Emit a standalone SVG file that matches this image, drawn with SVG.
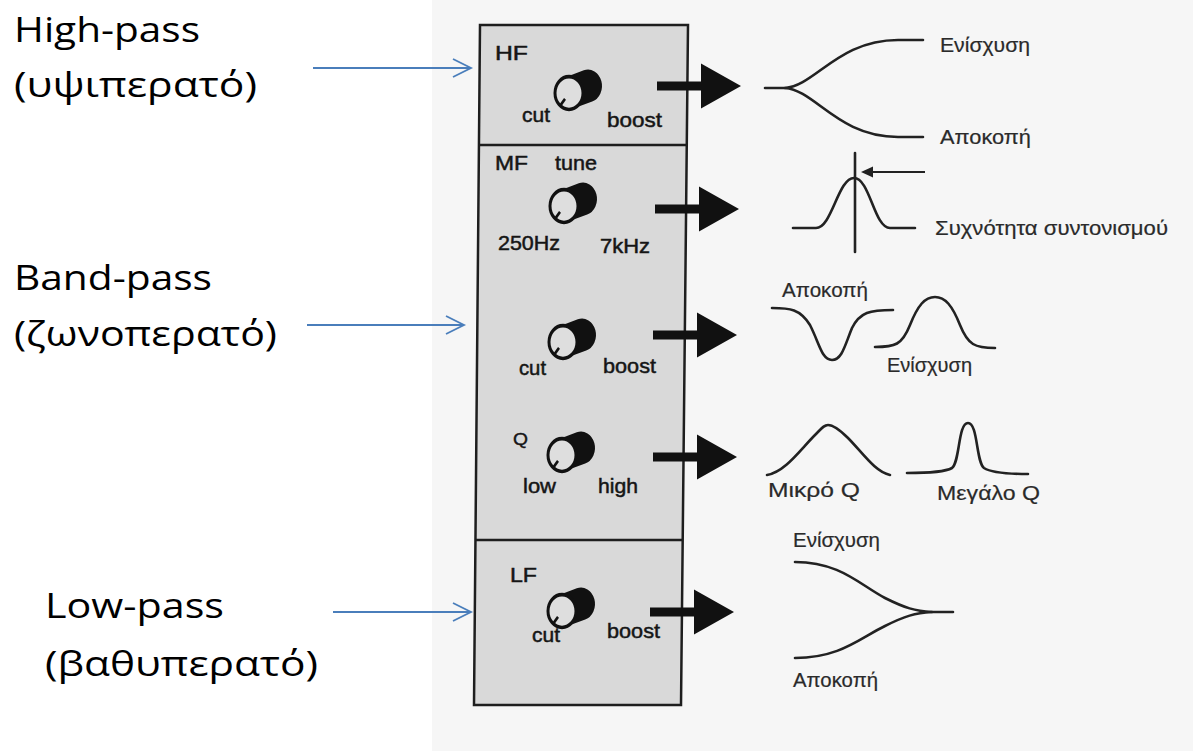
<svg xmlns="http://www.w3.org/2000/svg" xmlns:xlink="http://www.w3.org/1999/xlink" width="1193" height="751" viewBox="0 0 1193 751">
<style>
.pl{font-family:"Liberation Sans",Arial,sans-serif;font-size:21px;fill:#151515;stroke:#151515;stroke-width:0.5}
.pq{font-family:"Liberation Sans",Arial,sans-serif;font-size:17px;fill:#151515;stroke:#151515;stroke-width:0.4}
.gr{font-family:"Liberation Sans",Arial,sans-serif;font-size:20px;fill:#2a2a2a;stroke:#2a2a2a;stroke-width:0.2}
.lbl{font-family:"Open Sans","Noto Sans",sans-serif;font-size:35px;fill:#000}
.crv{fill:none;stroke:#222;stroke-width:2.6;stroke-linecap:round;stroke-linejoin:round}
.blue{fill:none;stroke:#4a7ebb;stroke-width:1.8}
.box{fill:#d9d9d9;stroke:#1e1e1e;stroke-width:2.5}
.div{stroke:#1e1e1e;stroke-width:2.5}
.big{fill:#111}
</style>
<defs>
<g id="knob">
<line x1="0" y1="0" x2="19" y2="-6" stroke="#111" stroke-width="28" stroke-linecap="round"/>
<circle r="14" fill="#dedede" stroke="#111" stroke-width="3"/>
<line x1="-4" y1="5" x2="-8.5" y2="10.5" stroke="#111" stroke-width="2.5"/>
</g>
<path id="bigarrow" d="M0,-4.5 H44 V-22.5 L84,0 L44,22.5 V4.5 H0 Z"/>
</defs>
<rect x="0" y="0" width="1193" height="751" fill="#ffffff"/>
<rect x="432" y="0" width="761" height="751" fill="#f6f6f6"/>

<g id="panel">
<polygon class="box" points="480,25 688,25 681,705 474,705"/>
<line class="div" x1="479" y1="145" x2="687" y2="145"/>
<line class="div" x1="476" y1="540" x2="683" y2="540"/>
</g>

<g id="hf-section">
<text class="pl" x="495" y="60" textLength="33" lengthAdjust="spacingAndGlyphs">HF</text>
<use xlink:href="#knob" transform="translate(569,93) scale(1,1.17)"/>
<text class="pl" x="522" y="122" textLength="28" lengthAdjust="spacingAndGlyphs">cut</text>
<text class="pl" x="607" y="127" textLength="55" lengthAdjust="spacingAndGlyphs">boost</text>
</g>

<g id="mf-tune">
<text class="pl" x="495" y="170" textLength="33" lengthAdjust="spacingAndGlyphs">MF</text>
<text class="pl" x="555" y="170" textLength="42" lengthAdjust="spacingAndGlyphs">tune</text>
<use xlink:href="#knob" transform="translate(564,206) scale(1,1.17)"/>
<text class="pl" x="498" y="250" textLength="62" lengthAdjust="spacingAndGlyphs">250Hz</text>
<text class="pl" x="600" y="253" textLength="50" lengthAdjust="spacingAndGlyphs">7kHz</text>
</g>

<g id="mf-gain">
<use xlink:href="#knob" transform="translate(563,342) scale(1,1.17)"/>
<text class="pl" x="519" y="375" textLength="27" lengthAdjust="spacingAndGlyphs">cut</text>
<text class="pl" x="603" y="373" textLength="53" lengthAdjust="spacingAndGlyphs">boost</text>
</g>

<g id="mf-q">
<text class="pq" x="513" y="445" textLength="15" lengthAdjust="spacingAndGlyphs">Q</text>
<use xlink:href="#knob" transform="translate(562,455) scale(1,1.17)"/>
<text class="pl" x="523" y="493" textLength="33" lengthAdjust="spacingAndGlyphs">low</text>
<text class="pl" x="598" y="493" textLength="40" lengthAdjust="spacingAndGlyphs">high</text>
</g>

<g id="lf-section">
<text class="pl" x="510" y="582" textLength="27" lengthAdjust="spacingAndGlyphs">LF</text>
<use xlink:href="#knob" transform="translate(562,611) scale(1,1.17)"/>
<text class="pl" x="532" y="642" textLength="28" lengthAdjust="spacingAndGlyphs">cut</text>
<text class="pl" x="607" y="638" textLength="53" lengthAdjust="spacingAndGlyphs">boost</text>
</g>

<g id="hf-response">
<path class="crv" d="M765,88 L785,88 C815,86 838,40 898,40 L923,40"/>
<path class="crv" d="M785,88 C815,90 838,137 898,137 L923,137"/>
<text class="gr" x="940" y="52" textLength="90" lengthAdjust="spacingAndGlyphs">Ενίσχυση</text>
<text class="gr" x="940" y="144" textLength="91" lengthAdjust="spacingAndGlyphs">Αποκοπή</text>
</g>

<g id="mf-tune-response">
<path class="crv" d="M793,228 H816 C832,228 838,178 854,178 C870,178 874,228 890,228 H915"/>
<line class="crv" x1="855" y1="153" x2="855" y2="252"/>
<line x1="925" y1="172" x2="870" y2="172" stroke="#222" stroke-width="2"/>
<polygon points="861,172 873,166.5 873,177.5" fill="#222"/>
<text class="gr" x="935" y="235" textLength="233" lengthAdjust="spacingAndGlyphs">Συχνότητα συντονισμού</text>
</g>

<g id="mf-gain-response">
<text class="gr" x="782" y="297" textLength="86" lengthAdjust="spacingAndGlyphs">Αποκοπή</text>
<path class="crv" d="M772,308 C790,308 800,309 810,325 C820,345 822,360 832,360 C842,360 845,345 852,328 C860,312 870,310 893,310"/>
<path class="crv" d="M875,347 C895,347 902,345 910,325 C918,305 925,297 935,297 C945,297 952,305 960,325 C968,345 975,348 995,348"/>
<text class="gr" x="887" y="372" textLength="85" lengthAdjust="spacingAndGlyphs">Ενίσχυση</text>
</g>

<g id="mf-q-response">
<path class="crv" d="M767,475 C785,472 800,450 815,435 C822,428 824,425 828,425 C834,425 840,430 848,438 C862,452 875,472 890,475"/>
<path class="crv" d="M907,473 C930,473 945,472 952,468 C960,462 958,423 968,423 C978,423 976,462 984,468 C990,472 1005,474 1028,474"/>
<text class="gr" x="768" y="497" textLength="92" lengthAdjust="spacingAndGlyphs">Μικρό Q</text>
<text class="gr" x="937" y="500" textLength="103" lengthAdjust="spacingAndGlyphs">Μεγάλο Q</text>
</g>

<g id="lf-response">
<text class="gr" x="793" y="547" textLength="87" lengthAdjust="spacingAndGlyphs">Ενίσχυση</text>
<path class="crv" d="M795,562 C840,562 860,585 885,598 C905,608 915,611 932,612 L953,612"/>
<path class="crv" d="M795,658 C840,658 860,638 885,626 C905,616 915,613 932,612"/>
<text class="gr" x="793" y="687" textLength="85" lengthAdjust="spacingAndGlyphs">Αποκοπή</text>
</g>

<g id="label-high">
<text class="lbl" x="14" y="42" textLength="186" lengthAdjust="spacingAndGlyphs">High-pass</text>
<text class="lbl" x="14" y="97" textLength="243" lengthAdjust="spacingAndGlyphs">(υψιπερατό)</text>
</g>
<g id="label-band">
<text class="lbl" x="14" y="290" textLength="198" lengthAdjust="spacingAndGlyphs">Band-pass</text>
<text class="lbl" x="14" y="346" textLength="263" lengthAdjust="spacingAndGlyphs">(ζωνοπερατό)</text>
</g>
<g id="label-low">
<text class="lbl" x="45" y="618" textLength="179" lengthAdjust="spacingAndGlyphs">Low-pass</text>
<text class="lbl" x="45" y="676" textLength="273" lengthAdjust="spacingAndGlyphs">(βαθυπερατό)</text>
</g>

<g id="connectors">
<line class="blue" x1="313" y1="68" x2="471" y2="68"/>
<polyline class="blue" points="453,59 471,68 453,77"/>
<line class="blue" x1="307" y1="325" x2="464" y2="325"/>
<polyline class="blue" points="446,316 464,325 446,334"/>
<line class="blue" x1="333" y1="612" x2="471" y2="612"/>
<polyline class="blue" points="453,603 471,612 453,621"/>
<use class="big" xlink:href="#bigarrow" transform="translate(657,86)"/>
<use class="big" xlink:href="#bigarrow" transform="translate(655,209)"/>
<use class="big" xlink:href="#bigarrow" transform="translate(653,335)"/>
<use class="big" xlink:href="#bigarrow" transform="translate(653,457)"/>
<use class="big" xlink:href="#bigarrow" transform="translate(650,612)"/>
</g>
</svg>
